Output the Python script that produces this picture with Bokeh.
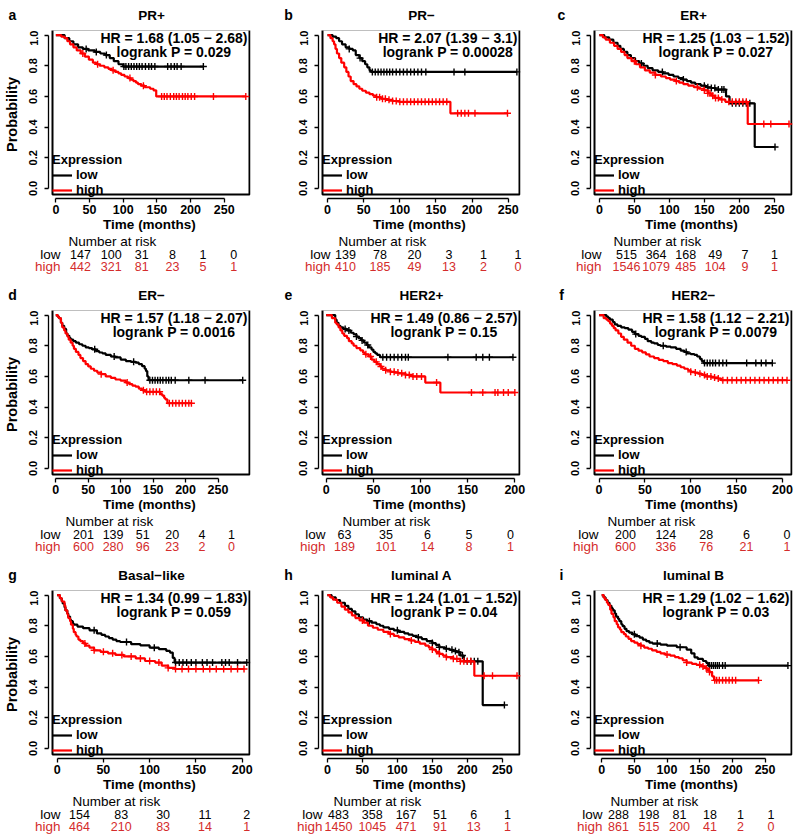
import numpy as np
from bokeh.plotting import figure
from bokeh.models import (Label, Legend, LegendItem, FixedTicker, PrintfTickFormatter,
                          Range1d, BoxAnnotation)
from bokeh.core.properties import value
from bokeh.layouts import column, row
from bokeh.embed import file_html
from bokeh.resources import INLINE

FONT = "Liberation Sans"
RED = "#ff0000"
RED_TXT = "#d42c2c"

# ---------------- data ----------------
risk_t6 = [0, 50, 100, 150, 200, 250]
risk_t5 = [0, 50, 100, 150, 200]

# a  PR+
a_low_t = [0, 13, 20, 26, 33, 40, 48, 58, 66, 73, 80, 86, 93, 100, 219]
a_low_s = [1.0, 0.98, 0.96, 0.94, 0.92, 0.91, 0.90, 0.89, 0.88, 0.87, 0.85, 0.83, 0.81, 0.795, 0.795]
a_low_c = [45, 60, 75, 101, 104, 108, 112, 116, 120, 124, 128, 133, 138, 142, 147, 166, 171, 176, 180, 186, 219]
a_high_t = [0, 8, 13, 17, 21, 26, 31, 37, 43, 49, 55, 60, 65, 72, 78, 83, 88, 93, 97, 102, 107, 111, 115, 119, 122, 127, 132, 140, 145, 149, 282]
a_high_s = [1.0, 0.99, 0.98, 0.96, 0.94, 0.92, 0.90, 0.88, 0.86, 0.84, 0.82, 0.81, 0.80, 0.79, 0.78, 0.77, 0.76, 0.75, 0.74, 0.73, 0.72, 0.71, 0.70, 0.69, 0.68, 0.67, 0.66, 0.65, 0.64, 0.60, 0.60]
a_high_c = [40, 62, 85, 110, 130, 157, 161, 165, 170, 175, 179, 183, 188, 192, 196, 201, 206, 234, 282]
a_risk_low = [147, 100, 31, 8, 1, 0]
a_risk_high = [442, 321, 81, 23, 5, 1]

# b  PR-
b_low_t = [0, 7, 12, 16, 20, 25, 30, 35, 39, 44, 48, 52, 55, 58, 60, 262]
b_low_s = [1.0, 0.99, 0.98, 0.96, 0.94, 0.92, 0.91, 0.90, 0.87, 0.85, 0.83, 0.81, 0.79, 0.77, 0.76, 0.76]
b_low_c = [30, 45, 62, 66, 70, 74, 78, 82, 86, 90, 95, 100, 105, 110, 115, 120, 125, 130, 136, 175, 190, 262]
b_high_t = [0, 4, 7, 9, 11, 13, 16, 19, 23, 26, 29, 32, 36, 40, 44, 48, 53, 58, 63, 67, 74, 81, 90, 99, 170, 249]
b_high_s = [1.0, 0.98, 0.96, 0.94, 0.91, 0.88, 0.85, 0.82, 0.79, 0.76, 0.73, 0.70, 0.68, 0.665, 0.65, 0.637, 0.625, 0.615, 0.605, 0.595, 0.585, 0.578, 0.57, 0.565, 0.49, 0.49]
b_high_c = [68, 72, 76, 80, 85, 90, 95, 100, 105, 110, 115, 120, 125, 130, 135, 140, 145, 150, 155, 160, 165, 180, 185, 190, 195, 204, 249]
b_risk_low = [139, 78, 20, 3, 1, 1]
b_risk_high = [410, 185, 49, 13, 2, 0]

# c  ER+
c_low_t = [0, 7, 14, 20, 26, 30, 35, 40, 45, 51, 57, 63, 69, 76, 84, 91, 99, 106, 113, 119, 125, 131, 137, 145, 152, 160, 166, 181, 186, 222, 251]
c_low_s = [1.0, 0.985, 0.97, 0.95, 0.93, 0.91, 0.89, 0.87, 0.85, 0.83, 0.815, 0.80, 0.785, 0.77, 0.76, 0.75, 0.74, 0.73, 0.72, 0.71, 0.70, 0.69, 0.68, 0.67, 0.66, 0.655, 0.645, 0.60, 0.555, 0.27, 0.27]
c_low_c = [60, 90, 120, 150, 155, 160, 165, 170, 175, 178, 190, 195, 200, 205, 210, 215, 251]
c_high_t = [0, 5, 9, 15, 21, 26, 31, 36, 40, 46, 52, 58, 65, 72, 80, 88, 95, 101, 108, 114, 120, 127, 135, 142, 150, 155, 160, 165, 172, 180, 212, 271]
c_high_s = [1.0, 0.985, 0.97, 0.95, 0.93, 0.91, 0.89, 0.87, 0.85, 0.83, 0.81, 0.79, 0.77, 0.755, 0.74, 0.73, 0.72, 0.71, 0.70, 0.69, 0.68, 0.67, 0.66, 0.65, 0.64, 0.62, 0.605, 0.59, 0.58, 0.565, 0.42, 0.42]
c_high_c = [50, 80, 110, 140, 150, 155, 158, 162, 166, 170, 175, 185, 190, 195, 200, 205, 210, 235, 245, 271]
c_risk_low = [515, 364, 168, 49, 7, 1]
c_risk_high = [1546, 1079, 485, 104, 9, 1]

# d  ER-
d_low_t = [0, 3, 5, 8, 10, 13, 16, 18, 21, 23, 27, 31, 36, 41, 46, 51, 56, 62, 67, 72, 77, 85, 92, 100, 108, 116, 123, 128, 133, 137, 139, 141, 143, 288]
d_low_s = [1.0, 0.99, 0.98, 0.95, 0.93, 0.91, 0.88, 0.865, 0.85, 0.84, 0.83, 0.82, 0.81, 0.80, 0.79, 0.785, 0.777, 0.765, 0.756, 0.75, 0.74, 0.73, 0.724, 0.71, 0.70, 0.695, 0.69, 0.68, 0.667, 0.65, 0.635, 0.60, 0.575, 0.575]
d_low_c = [60, 90, 120, 145, 149, 153, 157, 161, 165, 170, 174, 178, 184, 205, 230, 288]
d_high_t = [0, 3, 5, 8, 10, 13, 15, 18, 20, 23, 26, 28, 31, 35, 38, 42, 46, 50, 54, 59, 64, 70, 77, 85, 92, 100, 108, 113, 118, 123, 128, 133, 138, 161, 164, 167, 169, 172, 209]
d_high_s = [1.0, 0.99, 0.98, 0.95, 0.92, 0.90, 0.88, 0.86, 0.84, 0.82, 0.80, 0.78, 0.76, 0.74, 0.72, 0.70, 0.68, 0.665, 0.65, 0.637, 0.625, 0.615, 0.60, 0.59, 0.58, 0.572, 0.56, 0.55, 0.54, 0.533, 0.52, 0.51, 0.50, 0.485, 0.475, 0.46, 0.45, 0.425, 0.425]
d_high_c = [70, 110, 135, 140, 145, 150, 155, 160, 175, 180, 185, 190, 195, 200, 205, 209]
d_risk_low = [201, 139, 51, 20, 4, 1]
d_risk_high = [600, 280, 96, 23, 2, 0]

# e  HER2+
e_low_t = [0, 9.5, 11, 13, 15, 18, 22, 26, 29, 32, 34, 37, 40, 43, 45, 48, 50, 52, 54, 57, 198]
e_low_s = [1.0, 0.97, 0.95, 0.93, 0.92, 0.91, 0.90, 0.885, 0.875, 0.86, 0.85, 0.835, 0.82, 0.805, 0.79, 0.775, 0.76, 0.75, 0.74, 0.725, 0.725]
e_low_c = [20, 24, 32, 38, 44, 60, 64, 68, 72, 76, 80, 84, 87, 129, 159, 166, 173, 198]
e_high_t = [0, 6, 9.5, 11, 13, 15, 17, 19, 22, 24, 27, 29, 32, 36, 39, 41, 45, 48, 51, 54, 57, 59, 63, 68, 73, 77, 84, 91, 105, 121, 200]
e_high_s = [1.0, 0.98, 0.95, 0.94, 0.92, 0.90, 0.88, 0.865, 0.85, 0.83, 0.815, 0.80, 0.785, 0.77, 0.755, 0.744, 0.73, 0.71, 0.695, 0.68, 0.665, 0.65, 0.64, 0.63, 0.625, 0.62, 0.61, 0.60, 0.56, 0.495, 0.495]
e_high_c = [42, 47, 53, 58, 63, 68, 72, 76, 80, 84, 88, 92, 96, 101, 117, 154, 166, 179, 182, 188, 193, 200]
e_risk_low = [63, 35, 6, 5, 0]
e_risk_high = [189, 101, 14, 8, 1]

# f  HER2-
f_low_t = [0, 8, 10, 12, 15, 17, 20, 24, 28, 32, 36, 39, 43, 46, 50, 53, 57, 60, 64, 67, 73, 78, 84, 89, 93, 96, 100, 104, 107, 110, 112, 114, 189]
f_low_s = [1.0, 0.99, 0.98, 0.97, 0.955, 0.94, 0.93, 0.92, 0.915, 0.905, 0.89, 0.876, 0.865, 0.858, 0.845, 0.83, 0.82, 0.815, 0.805, 0.80, 0.795, 0.79, 0.78, 0.768, 0.76, 0.75, 0.745, 0.74, 0.73, 0.715, 0.70, 0.687, 0.687]
f_low_c = [40, 70, 95, 115, 118, 121, 124, 127, 131, 135, 139, 161, 171, 177, 182, 189]
f_high_t = [0, 5, 8, 10, 12, 14, 16, 18, 21, 24, 27, 31, 35, 39, 43, 47, 51, 55, 60, 65, 70, 75, 80, 85, 89, 93, 97, 100, 104, 108, 112, 116, 123, 130, 133, 205]
f_high_s = [1.0, 0.98, 0.97, 0.96, 0.945, 0.93, 0.915, 0.90, 0.88, 0.858, 0.84, 0.82, 0.80, 0.78, 0.768, 0.757, 0.744, 0.73, 0.72, 0.708, 0.70, 0.687, 0.68, 0.67, 0.66, 0.65, 0.64, 0.63, 0.625, 0.618, 0.61, 0.60, 0.593, 0.586, 0.575, 0.575]
f_high_c = [100, 105, 110, 115, 118, 122, 126, 130, 135, 140, 145, 150, 155, 160, 165, 170, 175, 180, 185, 190, 195, 200, 205]
f_risk_low = [200, 124, 28, 6, 0]
f_risk_high = [600, 336, 76, 21, 1]

# g  Basal-like
g_low_t = [0, 3, 5, 6, 8, 9, 11, 12, 14, 15, 17, 18, 22, 28, 35, 43, 48, 52, 56, 60, 64, 68, 80, 90, 100, 110, 118, 122, 125, 127, 205]
g_low_s = [1.0, 0.98, 0.96, 0.946, 0.92, 0.90, 0.88, 0.86, 0.84, 0.83, 0.815, 0.807, 0.795, 0.784, 0.77, 0.75, 0.74, 0.73, 0.72, 0.71, 0.70, 0.694, 0.68, 0.672, 0.657, 0.647, 0.636, 0.625, 0.59, 0.56, 0.56]
g_low_c = [40, 75, 105, 128, 132, 136, 140, 145, 150, 157, 162, 168, 178, 182, 186, 195, 205]
g_high_t = [0, 3, 5, 6, 8, 9, 11, 12, 14, 15, 17, 18, 20, 21, 23, 25, 28, 31, 35, 40, 47, 55, 63, 72, 85, 95, 106, 113, 120, 127, 202]
g_high_s = [1.0, 0.98, 0.96, 0.957, 0.93, 0.90, 0.875, 0.85, 0.83, 0.807, 0.78, 0.758, 0.74, 0.73, 0.71, 0.70, 0.685, 0.67, 0.657, 0.64, 0.63, 0.62, 0.61, 0.60, 0.587, 0.57, 0.56, 0.54, 0.525, 0.518, 0.518]
g_high_c = [30, 40, 50, 60, 70, 80, 90, 100, 110, 120, 128, 135, 142, 150, 158, 165, 172, 180, 188, 195, 202]
g_risk_low = [154, 83, 30, 11, 2]
g_risk_high = [464, 210, 83, 14, 1]

# h  luminal A
h_low_t = [0, 6, 12, 18, 25, 30, 35, 40, 45, 51, 57, 63, 70, 75, 80, 88, 95, 102, 110, 116, 122, 128, 135, 142, 150, 155, 160, 168, 175, 180, 185, 190, 195, 222, 253]
h_low_s = [1.0, 0.985, 0.968, 0.95, 0.93, 0.91, 0.894, 0.875, 0.855, 0.84, 0.83, 0.82, 0.81, 0.80, 0.79, 0.78, 0.77, 0.76, 0.75, 0.742, 0.734, 0.724, 0.713, 0.70, 0.687, 0.675, 0.66, 0.65, 0.643, 0.635, 0.628, 0.606, 0.568, 0.283, 0.283]
h_low_c = [60, 100, 130, 150, 160, 170, 178, 183, 188, 193, 200, 205, 210, 215, 253]
h_high_t = [0, 4, 8, 14, 20, 25, 30, 35, 40, 46, 52, 58, 65, 72, 80, 88, 95, 102, 110, 118, 125, 132, 140, 145, 150, 155, 160, 165, 170, 180, 190, 210, 271]
h_high_s = [1.0, 0.985, 0.97, 0.95, 0.925, 0.905, 0.887, 0.868, 0.85, 0.835, 0.82, 0.80, 0.787, 0.774, 0.76, 0.747, 0.734, 0.724, 0.713, 0.704, 0.695, 0.683, 0.67, 0.658, 0.645, 0.63, 0.617, 0.606, 0.596, 0.585, 0.568, 0.474, 0.474]
h_high_c = [50, 90, 120, 150, 160, 170, 180, 185, 190, 195, 200, 205, 224, 236, 271]
h_risk_low = [483, 358, 167, 51, 6, 1]
h_risk_high = [1450, 1045, 471, 91, 13, 1]

# i  luminal B
i_low_t = [0, 3, 6, 9, 12, 15, 17, 20, 22, 25, 27, 30, 32, 35, 38, 42, 47, 52, 58, 63, 68, 73, 78, 90, 100, 115, 130, 137, 142, 147, 155, 160, 163, 285]
i_low_s = [1.0, 0.985, 0.968, 0.95, 0.93, 0.915, 0.90, 0.88, 0.86, 0.845, 0.83, 0.81, 0.797, 0.78, 0.765, 0.755, 0.744, 0.733, 0.722, 0.71, 0.70, 0.69, 0.684, 0.677, 0.67, 0.66, 0.645, 0.62, 0.594, 0.584, 0.57, 0.558, 0.54, 0.54]
i_low_c = [50, 85, 120, 165, 168, 171, 174, 177, 180, 185, 189, 285]
i_high_t = [0, 3, 5, 8, 10, 13, 15, 18, 20, 23, 25, 28, 30, 34, 37, 41, 45, 50, 55, 60, 65, 71, 77, 84, 90, 97, 105, 112, 118, 124, 130, 138, 145, 152, 158, 162, 165, 169, 172, 240]
i_high_s = [1.0, 0.985, 0.97, 0.95, 0.936, 0.905, 0.878, 0.855, 0.83, 0.81, 0.79, 0.775, 0.758, 0.745, 0.73, 0.715, 0.70, 0.69, 0.68, 0.67, 0.658, 0.65, 0.64, 0.63, 0.62, 0.612, 0.605, 0.596, 0.588, 0.575, 0.56, 0.552, 0.545, 0.535, 0.523, 0.51, 0.498, 0.47, 0.444, 0.444]
i_high_c = [60, 100, 130, 150, 155, 160, 165, 173, 176, 180, 185, 190, 195, 200, 205, 240]
i_risk_low = [288, 198, 81, 18, 1, 1]
i_risk_high = [861, 515, 200, 41, 2, 0]

titles = ["PR+", "PR\u2212", "ER+", "ER\u2212", "HER2+", "HER2\u2212", "Basal\u2212like", "luminal A", "luminal B"]
letters = ["a", "b", "c", "d", "e", "f", "g", "h", "i"]
hr_texts = ["HR = 1.68 (1.05 \u2212 2.68)", "HR = 2.07 (1.39 \u2212 3.1)", "HR = 1.25 (1.03 \u2212 1.52)",
            "HR = 1.57 (1.18 \u2212 2.07)", "HR = 1.49 (0.86 \u2212 2.57)", "HR = 1.58 (1.12 \u2212 2.21)",
            "HR = 1.34 (0.99 \u2212 1.83)", "HR = 1.24 (1.01 \u2212 1.52)", "HR = 1.29 (1.02 \u2212 1.62)"]
p_texts = ["logrank P = 0.029", "logrank P = 0.00028", "logrank P = 0.027",
           "logrank P = 0.0016", "logrank P = 0.15", "logrank P = 0.0079",
           "logrank P = 0.059", "logrank P = 0.04", "logrank P = 0.03"]

# ---------------- layout (pixels / axis extents) ----------------
COL_W = [265, 265, 268]
COL_FRAME_L = [48, 53, 60]
COL_BOX_W = [198, 198, 198]
LETTER_X = [12, 23, 31]
HEAD_H = 30
BOX_H = 166
GAP = 4                      # R-style gap between the box and the axis lines
KM_BOTTOM = 34
TABLE_H = [46, 46, 42]
Y_BOX = (-0.04, 1.03)
X_BOX = [(-5, 289), (-7, 267), (-7, 276), (-5, 300), (-4, 206), (-5, 211), (-5, 209), (-7, 276), (-11, 292)]
# number-at-risk table: pixel position of month 0 and pixels per month of its column scale
TABLE_MAP = [(80, 0.613), (80, 0.690), (96, 0.592), (83, 0.592), (79, 0.830),
             (95, 0.807), (79, 0.836), (73, 0.676), (88, 0.610)]
LAB_RIGHT = [60, 65, 71, 60, 60, 68, 60, 57, 72]      # right edge of "low"/"high"
NAR_LEFT = [68, 73, 83, 65, 77, 77, 72, 68, 80]        # left edge of "Number at risk"

BOLD_W = {".": .278, " ": .278, "=": .584, "(": .333, ")": .333, "\u2212": .584, "H": .722, "R": .722}


def text_w(s, size):
    return sum(BOLD_W.get(ch, .556) for ch in s) * size


def surv_at(ts, ss, cs):
    idx = np.searchsorted(np.asarray(ts, float), np.asarray(cs, float), side="right") - 1
    return [ss[k] for k in idx]


def blank_fig(W, H, xr, yr):
    f = figure(width=W, height=H, x_range=xr, y_range=yr, title=None,
               output_backend="svg", toolbar_location=None,
               x_axis_type=None, y_axis_type=None, min_border=0)
    f.outline_line_color = None
    f.background_fill_color = "white"
    f.border_fill_color = "white"
    return f


def make_cell(k, low, high, risk_t, risk_low, risk_high):
    ci, ri = k % 3, k // 3
    W = COL_W[ci]
    frame_l = COL_FRAME_L[ci]
    box_w = COL_BOX_W[ci]
    frame_w = box_w + GAP
    frame_h = BOX_H + GAP
    x0, x1 = X_BOX[k]
    sx = box_w / (x1 - x0)
    sy = BOX_H / (Y_BOX[1] - Y_BOX[0])
    xr = Range1d(x0 - GAP / sx, x1)
    yr = Range1d(Y_BOX[0] - GAP / sy, Y_BOX[1])
    box_left = frame_l + GAP

    # ---- header: panel letter + title
    head = blank_fig(W, HEAD_H, Range1d(0, W), Range1d(0, HEAD_H))
    head.add_layout(Label(x=box_left + box_w / 2, y=15, x_units="screen", y_units="screen",
                          text=titles[k], text_align="center", text_baseline="middle",
                          text_font=FONT, text_font_style="bold", text_font_size="13.5px",
                          text_color="black"))
    head.add_layout(Label(x=LETTER_X[ci], y=16, x_units="screen", y_units="screen",
                          text=letters[k], text_align="center", text_baseline="middle",
                          text_font=FONT, text_font_style="bold", text_font_size="14px",
                          text_color="black"))

    # ---- Kaplan-Meier plot
    p = figure(width=W, height=frame_h + KM_BOTTOM, x_range=xr, y_range=yr, title=None,
               output_backend="svg", toolbar_location=None,
               min_border_left=frame_l, min_border_right=W - frame_l - frame_w,
               min_border_top=0, min_border_bottom=KM_BOTTOM)
    p.outline_line_color = None
    p.xgrid.visible = False
    p.ygrid.visible = False
    p.background_fill_color = "white"
    p.border_fill_color = "white"

    p.add_layout(BoxAnnotation(left=GAP, right=frame_w - 1, bottom=GAP, top=frame_h - 1,
                               left_units="screen", right_units="screen",
                               bottom_units="screen", top_units="screen",
                               fill_color=None, fill_alpha=0, line_color="black",
                               line_alpha=1.0, line_width=2, level="underlay"))

    xt = list(risk_t)
    p.xaxis.ticker = FixedTicker(ticks=xt)
    p.xaxis.bounds = (xt[0], xt[-1])
    p.yaxis.ticker = FixedTicker(ticks=[0, 0.2, 0.4, 0.6, 0.8, 1.0])
    p.yaxis.bounds = (0, 1)
    p.yaxis.formatter = PrintfTickFormatter(format="%.1f")
    p.yaxis.major_label_orientation = "vertical"
    for ax in (p.xaxis[0], p.yaxis[0]):
        ax.axis_line_color = "black"
        ax.axis_line_width = 1.3
        ax.major_tick_line_color = "black"
        ax.major_tick_line_width = 1.3
        ax.major_tick_in = 0
        ax.major_tick_out = 4
        ax.minor_tick_line_color = None
        ax.major_label_text_font = FONT
        ax.major_label_text_font_style = "bold"
        ax.major_label_text_color = "black"
        ax.axis_label_text_font = FONT
        ax.axis_label_text_font_style = "bold"
        ax.axis_label_text_color = "black"
    p.xaxis.major_label_text_font_size = "12.5px"
    p.xaxis.major_label_standoff = 2
    p.xaxis.axis_label = "Time (months)"
    p.xaxis.axis_label_text_font_size = "13.5px"
    p.xaxis.axis_label_standoff = 0
    p.yaxis.major_label_text_font_size = "11px"
    p.yaxis.major_label_standoff = 7
    if ci == 0:
        p.yaxis.axis_label = "Probability"
        p.yaxis.axis_label_text_font_size = "14.5px"
        p.yaxis.axis_label_standoff = 7

    lt, ls, lc = low
    ht, hs, hc = high
    r_low = p.step(lt, ls, mode="after", line_color="black", line_width=2.2)
    p.scatter(lc, surv_at(lt, ls, lc), marker="cross", size=7, line_color="black", line_width=1.4)
    r_high = p.step(ht, hs, mode="after", line_color=RED, line_width=2.2)
    p.scatter(hc, surv_at(ht, hs, hc), marker="cross", size=7, line_color=RED, line_width=1.4)

    leg = Legend(items=[LegendItem(label="low", renderers=[r_low]),
                        LegendItem(label="high", renderers=[r_high])],
                 title="Expression", location=(GAP, 1), orientation="vertical",
                 border_line_color=None, background_fill_alpha=0, margin=0, padding=0,
                 spacing=0, label_height=12, glyph_height=12, glyph_width=20,
                 label_standoff=4, title_standoff=0,
                 label_text_font=FONT, label_text_font_size="13px", label_text_font_style="bold",
                 label_text_color="black",
                 title_text_font=FONT, title_text_font_size="13px", title_text_font_style="bold",
                 title_text_color="black")
    p.add_layout(leg)

    hr = hr_texts[k]
    cx = frame_w - 3 - text_w(hr, 14) / 2
    for txt, dy in ((hr, 9), (p_texts[k], 23)):
        p.add_layout(Label(x=cx, y=frame_h - dy, x_units="screen", y_units="screen", text=txt,
                           text_align="center", text_baseline="middle", text_font=FONT,
                           text_font_style="bold", text_font_size="14px", text_color="black"))

    # ---- number-at-risk table (its own column scale, months -> pixels)
    TH = TABLE_H[ri]
    t_px0, t_ppm = TABLE_MAP[k]
    table = blank_fig(W, TH, Range1d(-t_px0 / t_ppm, (W - t_px0) / t_ppm), Range1d(0, TH))
    table.add_layout(Label(x=NAR_LEFT[k], y=TH - 7, x_units="screen", y_units="screen",
                           text="Number at risk", text_align="left", text_baseline="middle",
                           text_font=FONT, text_font_size="13.5px", text_color="black"))
    for lab, vals, yy, col in (("low", risk_low, TH - 20, "black"),
                               ("high", risk_high, TH - 32, RED_TXT)):
        table.add_layout(Label(x=LAB_RIGHT[k], y=yy, x_units="screen", y_units="screen",
                               text=lab, text_align="right", text_baseline="middle",
                               text_font=FONT, text_font_size="13.5px", text_color=col))
        table.text(x=list(risk_t), y=[yy] * len(vals), text=[str(v) for v in vals],
                   text_align="center", text_baseline="middle",
                   text_font=value(FONT), text_font_size=value("12.5px"), text_color=col)

    return head, p, table


panels_data = [
    ((a_low_t, a_low_s, a_low_c), (a_high_t, a_high_s, a_high_c), risk_t6, a_risk_low, a_risk_high),
    ((b_low_t, b_low_s, b_low_c), (b_high_t, b_high_s, b_high_c), risk_t6, b_risk_low, b_risk_high),
    ((c_low_t, c_low_s, c_low_c), (c_high_t, c_high_s, c_high_c), risk_t6, c_risk_low, c_risk_high),
    ((d_low_t, d_low_s, d_low_c), (d_high_t, d_high_s, d_high_c), risk_t6, d_risk_low, d_risk_high),
    ((e_low_t, e_low_s, e_low_c), (e_high_t, e_high_s, e_high_c), risk_t5, e_risk_low, e_risk_high),
    ((f_low_t, f_low_s, f_low_c), (f_high_t, f_high_s, f_high_c), risk_t5, f_risk_low, f_risk_high),
    ((g_low_t, g_low_s, g_low_c), (g_high_t, g_high_s, g_high_c), risk_t5, g_risk_low, g_risk_high),
    ((h_low_t, h_low_s, h_low_c), (h_high_t, h_high_s, h_high_c), risk_t6, h_risk_low, h_risk_high),
    ((i_low_t, i_low_s, i_low_c), (i_high_t, i_high_s, i_high_c), risk_t6, i_risk_low, i_risk_high),
]

cells = [make_cell(k, *d) for k, d in enumerate(panels_data)]
rows = []
for r in range(3):
    trio = cells[3 * r:3 * r + 3]
    for part in range(3):
        rows.append(row(*[c[part] for c in trio], spacing=0))
layout = column(*rows, spacing=0)

open("out.html", "w").write(file_html(layout, INLINE))
